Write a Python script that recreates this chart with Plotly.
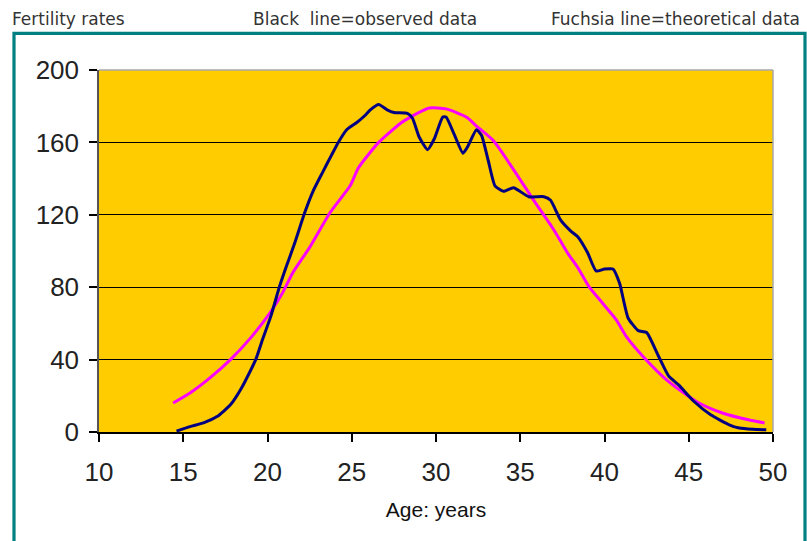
import plotly.graph_objects as go

# ---- data ----
obs_age = [14.6, 15.4, 16.2, 17.0, 17.8, 18.5, 19.3, 19.7, 20.2, 20.7, 21.1, 21.6, 22.2, 22.7,
           23.3, 23.8, 24.2, 24.7, 25.3, 25.8, 26.1, 26.6, 27.1, 27.5, 28.3, 28.6, 29.0, 29.5,
           29.9, 30.4, 30.6, 31.1, 31.6, 31.9, 32.4, 32.7, 33.1, 33.5, 34.0, 34.6, 35.5, 36.4,
           36.8, 37.4, 38.0, 38.4, 39.0, 39.5, 40.0, 40.5, 40.9, 41.4, 42.0, 42.5, 43.2, 43.8,
           44.4, 45.3, 46.3, 47.4, 48.0, 48.8, 49.6]
obs_rate = [0.5, 3, 5, 8.5, 15, 25, 40, 51, 64, 80, 91, 104, 121, 133,
            144, 153, 160, 167, 171, 175, 178, 181, 178, 176.5, 176, 173.5, 163, 156,
            162, 174, 174, 164, 154, 158, 167, 164, 150, 136, 133, 135, 130, 130,
            128, 117, 111, 108, 99, 89, 90, 90, 82, 63, 56, 55, 42, 31,
            26, 17, 9.5, 4, 2.2, 1.5, 1.2]

theo_age = [14.4, 15.4, 16.6, 17.8, 19.0, 20.2, 20.9, 21.5, 22.5, 23.7, 24.9, 25.4, 26.6, 27.9,
            28.3, 29.6, 30.6, 31.8, 32.4, 33.4, 34.6, 35.8, 37.0, 37.8, 38.4, 39.1, 39.9, 40.7,
            41.3, 42.3, 43.7, 45.5, 47.0, 48.6, 49.5]
theo_rate = [16, 21.5, 30, 40, 52, 66.5, 77, 88, 102, 121, 136, 146, 160, 170.6,
             173, 179, 178.5, 174, 169, 161, 145, 128, 111.6, 99, 91, 80, 71, 62,
             52.7, 41.6, 28.7, 16.6, 10.5, 6.6, 5]

x_ticks = [10, 15, 20, 25, 30, 35, 40, 45, 50]
y_ticks = [0, 40, 80, 120, 160, 200]

header_left = "Fertility rates"
header_mid = "Black  line=observed data"
header_right = "Fuchsia line=theoretical data"
x_title = "Age: years"

# ---- layout geometry (screen pixels; page body margin removed) ----
W, H = 807, 541
PL, PR, PT, PB = 99, 773, 70, 432          # plot area
L, T, R, B = PL, PT, W - PR, H - PB
PW, PH = PR - PL, PB - PT


def px_x(px):
    return (px - PL) / PW


def px_y(py):
    return (PB - py) / PH


fig = go.Figure()
fig.add_trace(go.Scatter(x=theo_age, y=theo_rate, mode="lines",
                         line=dict(color="#FF00FF", width=3, shape="spline", smoothing=0.6),
                         hoverinfo="x+y", showlegend=False))
fig.add_trace(go.Scatter(x=obs_age, y=obs_rate, mode="lines",
                         line=dict(color="#000080", width=3, shape="spline", smoothing=0.5),
                         hoverinfo="x+y", showlegend=False))

tick_font = dict(family="Liberation Sans, Arial, sans-serif", size=26, color="#222222")

fig.update_layout(
    width=W, height=H,
    margin=dict(l=L, r=R, t=T, b=B, pad=0),
    paper_bgcolor="white",
    plot_bgcolor="#FFCC00",
    showlegend=False,
    xaxis=dict(range=[10, 50], tickvals=x_ticks, ticktext=[str(v) for v in x_ticks],
               ticks="outside", ticklen=8, tickwidth=1.5, tickcolor="#000000",
               showline=True, linecolor="#000000", linewidth=1.5,
               showgrid=False, zeroline=False, tickfont=tick_font,
               ticklabelstandoff=8,
               title=dict(text=x_title, standoff=16,
                          font=dict(family="Liberation Sans, Arial, sans-serif", size=21, color="#111111"))),
    yaxis=dict(range=[0, 200], tickvals=y_ticks, ticktext=[str(v) for v in y_ticks],
               ticks="outside", ticklen=8, tickwidth=1.5, tickcolor="#000000",
               showline=True, linecolor="#555555", linewidth=1.5,
               showgrid=True, gridcolor="#000000", gridwidth=1.2, zeroline=False,
               tickfont=tick_font, ticklabelstandoff=5),
)

# plot-area border (top/right gray)
fig.add_shape(type="line", xref="paper", yref="paper", x0=0, x1=1, y0=1, y1=1,
              line=dict(color="#A8A8A8", width=1.5))
fig.add_shape(type="line", xref="paper", yref="paper", x0=1, x1=1, y0=0, y1=1,
              line=dict(color="#A8A8A8", width=1.5))

# teal frame
fig.add_shape(type="rect", xref="paper", yref="paper",
              x0=px_x(14), x1=px_x(805), y0=px_y(580), y1=px_y(33.3),
              line=dict(color="#008080", width=3.2), fillcolor="rgba(0,0,0,0)", layer="below")

head_font = dict(family="DejaVu Sans, sans-serif", size=17, color="#333333")
for txt, px in [(header_left, 10), (header_mid, 251), (header_right, 549)]:
    fig.add_annotation(text=txt, xref="paper", yref="paper", x=px_x(px), y=px_y(19),
                       xanchor="left", yanchor="middle", showarrow=False, font=head_font)

fig.write_html("out.html", config={"displayModeBar": False},
               post_script="document.body.style.margin='0';document.body.style.overflow='hidden';")
